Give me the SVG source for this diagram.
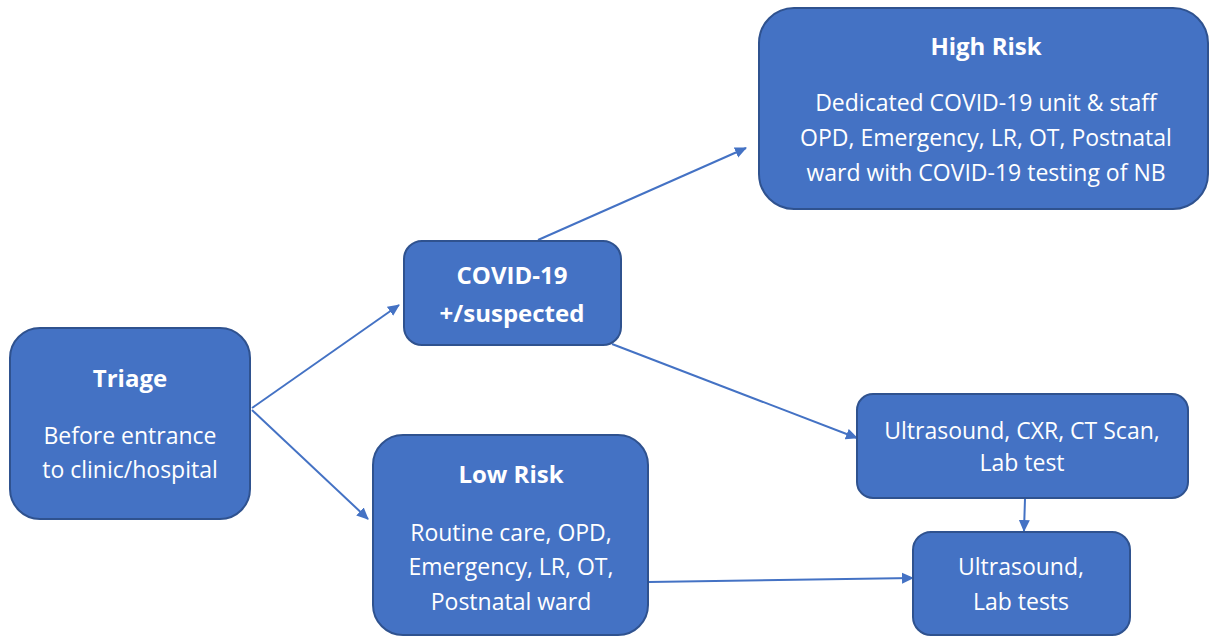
<svg xmlns="http://www.w3.org/2000/svg" width="1210" height="636" viewBox="0 0 1210 636">
<style>
.box{fill:#4472C4;stroke:#2F528F;stroke-width:2}
text{font-family:"Open Sans","Liberation Sans",sans-serif;fill:#fff;text-anchor:middle;font-size:23px}
.t{font-weight:bold;font-size:24px}
.c{fill:none;stroke:#4472C4;stroke-width:2;marker-end:url(#ah)}
</style>
<defs>
<marker id="ah" markerWidth="12" markerHeight="12" refX="11" refY="6" orient="auto" markerUnits="userSpaceOnUse"><path d="M0,0.5 L12,6 L0,11.5 z" fill="#4472C4"/></marker>
</defs>
<rect width="1210" height="636" fill="#fff"/>
<g id="connectors">
<line class="c" x1="252" y1="408" x2="399" y2="305"/>
<line class="c" x1="252" y1="410" x2="368" y2="519"/>
<line class="c" x1="538" y1="240" x2="746" y2="148"/>
<line class="c" x1="612" y1="344" x2="857" y2="438"/>
<line class="c" x1="1025" y1="499" x2="1024" y2="531"/>
<line class="c" x1="649" y1="582" x2="913" y2="578"/>
</g>
<g id="triage">
<rect class="box" x="10" y="328" width="240" height="191" rx="30"/>
<text class="t" x="130" y="387">Triage</text>
<text x="130" y="444">Before entrance</text>
<text x="130" y="478">to clinic/hospital</text>
</g>
<g id="covid">
<rect class="box" x="404" y="241" width="217" height="104" rx="18"/>
<text class="t" x="512" y="284">COVID-19</text>
<text class="t" x="512" y="322">+/suspected</text>
</g>
<g id="highrisk">
<rect class="box" x="759" y="8" width="449" height="201" rx="35"/>
<text class="t" x="986" y="55">High Risk</text>
<text x="986" y="111">Dedicated COVID-19 unit &amp; staff</text>
<text x="986" y="146">OPD, Emergency, LR, OT, Postnatal</text>
<text x="986" y="181">ward with COVID-19 testing of NB</text>
</g>
<g id="imaging">
<rect class="box" x="857" y="394" width="331" height="104" rx="16"/>
<text x="1022" y="439">Ultrasound, CXR, CT Scan,</text>
<text x="1022" y="471">Lab test</text>
</g>
<g id="lowrisk">
<rect class="box" x="373" y="435" width="275" height="200" rx="30"/>
<text class="t" x="511" y="483">Low Risk</text>
<text x="511" y="541">Routine care, OPD,</text>
<text x="511" y="575">Emergency, LR, OT,</text>
<text x="511" y="610">Postnatal ward</text>
</g>
<g id="ultralab">
<rect class="box" x="913" y="532" width="217" height="103" rx="18"/>
<text x="1021" y="575">Ultrasound,</text>
<text x="1021" y="610">Lab tests</text>
</g>
</svg>
